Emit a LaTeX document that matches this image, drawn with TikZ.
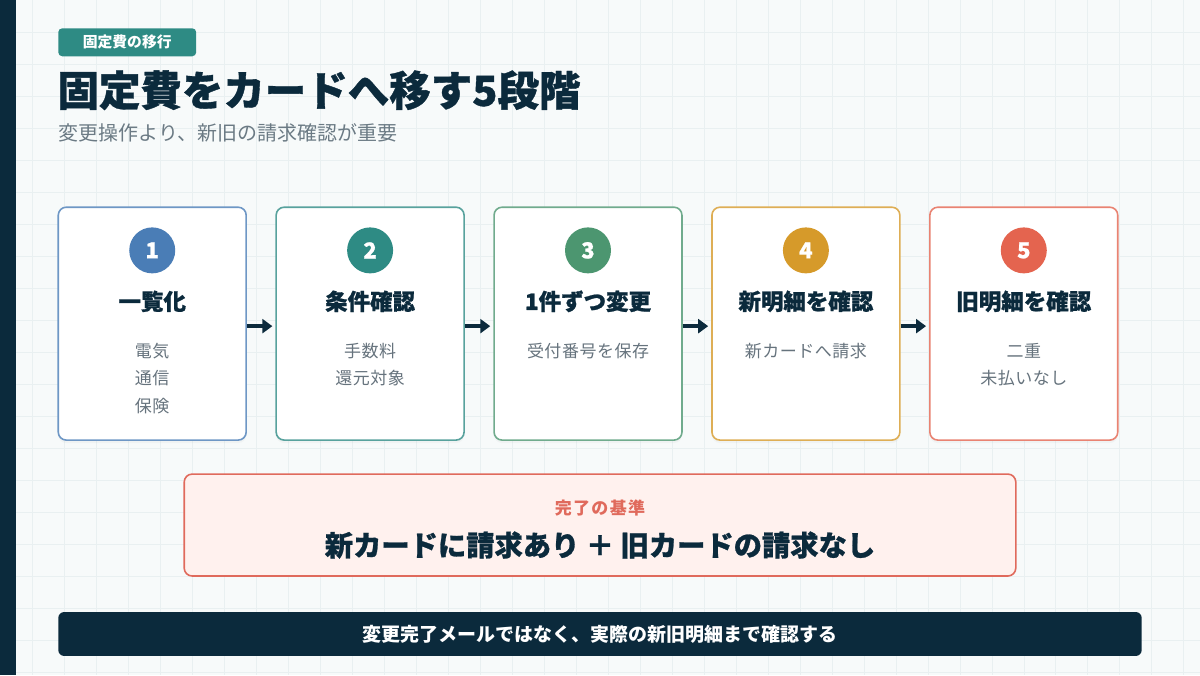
\documentclass[tikz,border=0pt]{standalone}
\usepackage{fontspec}
\setmainfont{Noto Sans CJK JP}
\newfontfamily\heavyfont{Noto Sans CJK JP}[BoldFeatures={FakeBold=0.9}]
\usetikzlibrary{positioning, arrows.meta, calc, shadows}
\definecolor{navy}{HTML}{0B2A3C}
\definecolor{bgcol}{HTML}{F7FAFA}
\definecolor{gridcol}{HTML}{E9F0F1}
\definecolor{subgray}{HTML}{6B7A84}
\definecolor{itemgray}{HTML}{66737D}
\definecolor{tagteal}{HTML}{2E8B84}
\definecolor{stepblue}{HTML}{4A7DB6}
\definecolor{stepteal}{HTML}{2E8B84}
\definecolor{stepgreen}{HTML}{4C9670}
\definecolor{stepgold}{HTML}{D69A2A}
\definecolor{stepred}{HTML}{E4644F}
\definecolor{goalfill}{HTML}{FFF1EE}
\definecolor{goalred}{HTML}{E06A5C}
\tikzset{
    stepcard/.style={draw=#1!80!white, line width=1.6pt, fill=white, rounded corners=8pt,
        minimum width=188pt, minimum height=233pt, inner sep=0pt,
        drop shadow={opacity=0.05, shadow xshift=0pt, shadow yshift=-3pt}},
    stepnum/.style={circle, fill=#1, minimum size=46pt, inner sep=0pt, text=white,
        font=\heavyfont\bfseries\fontsize{22}{22}\selectfont},
    steptitle/.style={inner sep=0pt, text=navy, font=\heavyfont\bfseries\fontsize{22.5}{24}\selectfont},
    stepitems/.style={inner sep=0pt, align=center, text=itemgray,
        font=\fontsize{17}{27.5}\selectfont\addfontfeature{LetterSpace=3}},
    flowarrow/.style={-{Triangle[length=10pt, width=14pt]}, line width=3.5pt, draw=navy, shorten >=3pt}
}

\begin{document}
\begin{tikzpicture}[x=1pt, y=-1pt]
        % ---------------- background ----------------
        \fill[bgcol] (0,0) rectangle (1200,675);
        \foreach \g in {32,64,...,1184} {
            \draw[gridcol, line width=0.6pt] (\g,0) -- (\g,675);
        }
        \foreach \g in {32,64,...,672} {
            \draw[gridcol, line width=0.6pt] (0,\g) -- (1200,\g);
        }
        \fill[navy] (0,0) rectangle (16,675);
        \useasboundingbox (0,0) rectangle (1200,675);

        % ---------------- header ----------------
        \node[fill=tagteal, rounded corners=4pt, minimum width=138pt, minimum height=28pt,
              text=white, font=\bfseries\fontsize{14.8}{14.8}\selectfont] (tag) at (127,42) {固定費の移行};
        \node[anchor=west, inner sep=0pt, text=navy, font=\heavyfont\bfseries\fontsize{41.5}{41.5}\selectfont]
              (title) at (57,90) {固定費をカードへ移す5段階};
        \node[anchor=west, inner sep=0pt, text=subgray, font=\fontsize{20}{20}\selectfont]
              (subtitle) at (58,133) {変更操作より、新旧の請求確認が重要};

        % ---------------- five steps ----------------
        \foreach \i/\cx/\col/\ttl/\items in {
            1/152/stepblue/一覧化/{電気\\通信\\保険},
            2/370/stepteal/条件確認/{手数料\\還元対象},
            3/588/stepgreen/1件ずつ変更/{受付番号を保存},
            4/806/stepgold/新明細を確認/{新カードへ請求},
            5/1024/stepred/旧明細を確認/{二重\\未払いなし}} {
            \node[stepcard=\col] (c\i) at (\cx,323.5) {};
            \node[stepnum=\col] (n\i) at ($(c\i.north)+(0,44)$) {\i};
            \node[steptitle] (t\i) at ($(c\i.north)+(0,95)$) {\ttl};
            \node[stepitems, anchor=north] (l\i) at ($(c\i.north)+(0,136.5)$) {\items};
        }

        % Arrows between steps
        \foreach \i/\j in {1/2,2/3,3/4,4/5} {
            \draw[flowarrow] ($(c\i.east)+(0,2.5)$) -- ($(c\j.west)+(0,2.5)$);
        }

        % ---------------- completion criterion ----------------
        \node[draw=goalred, line width=1.6pt, fill=goalfill, rounded corners=8pt,
              minimum width=832pt, minimum height=102pt] (goal) at (600,525) {};
        \node[inner sep=0pt, text=goalred,
              font=\bfseries\fontsize{17}{17}\selectfont\addfontfeature{LetterSpace=8}]
              (goalhead) at (600,508) {完了の基準};
        \node[inner sep=0pt, text=navy, font=\heavyfont\bfseries\fontsize{28.3}{28.3}\selectfont]
              (goaltext) at (600,545) {新カードに請求あり ＋ 旧カードの請求なし};

        % ---------------- bottom note ----------------
        \node[fill=navy, rounded corners=6pt, minimum width=1084pt, minimum height=44pt,
              text=white, font=\bfseries\fontsize{19}{19}\selectfont]
              (note) at (600,634) {変更完了メールではなく、実際の新旧明細まで確認する};
    \end{tikzpicture}
\end{document}
